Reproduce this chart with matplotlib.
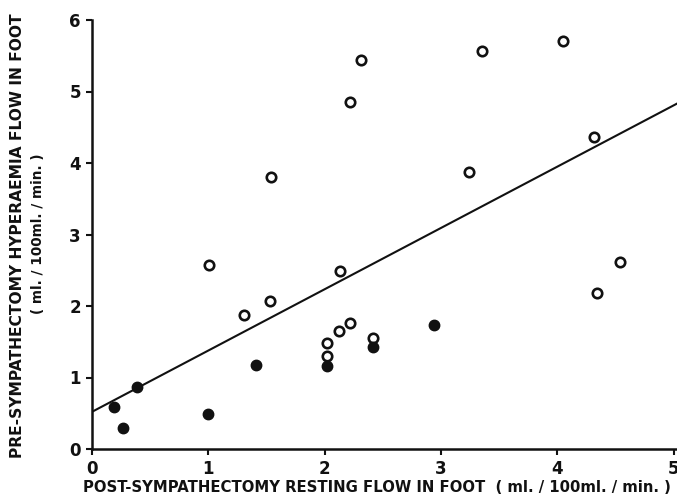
import matplotlib
matplotlib.use('Agg')
import matplotlib.pyplot as plt

# open circles
open_x = [1.01, 1.31, 1.53, 1.54, 2.02, 2.02, 2.12, 2.22, 2.13, 2.42,
          2.22, 2.31, 3.24, 3.35, 4.05, 4.32, 4.34, 4.54]
open_y = [2.58, 1.88, 2.07, 3.80, 1.48, 1.30, 1.65, 1.76, 2.49, 1.55,
          4.86, 5.44, 3.88, 5.56, 5.70, 4.37, 2.18, 2.62]

# filled circles
filled_x = [0.19, 0.27, 0.39, 1.00, 1.41, 2.02, 2.42, 2.94]
filled_y = [0.59, 0.29, 0.87, 0.49, 1.17, 1.16, 1.43, 1.74]

# regression line
line_x = [0.0, 5.03]
intercept = 0.52
slope = 0.857

x_ticks = [0, 1, 2, 3, 4, 5]
y_ticks = [0, 1, 2, 3, 4, 5, 6]

INK = '#111111'

fig = plt.figure(figsize=(6.77, 5.01), dpi=100, facecolor='white')
ax = fig.add_axes([92 / 677, 52 / 501, 585 / 677, 429 / 501])

ax.plot(line_x, [intercept + slope * x for x in line_x],
        color=INK, linewidth=1.5, zorder=2)
ax.plot(open_x, open_y, 'o', markersize=6.8, markerfacecolor='white',
        markeredgecolor=INK, markeredgewidth=1.9, zorder=3)
ax.plot(filled_x, filled_y, 'o', markersize=7.5, markerfacecolor=INK,
        markeredgecolor=INK, zorder=3)

ax.set_xlim(0, 5.03)
ax.set_ylim(0, 6)
ax.set_xticks(x_ticks)
ax.set_yticks(y_ticks)
ax.set_xticklabels([str(t) for t in x_ticks], fontsize=12, fontweight='bold')
ax.set_yticklabels([str(t) for t in y_ticks], fontsize=12, fontweight='bold')

for side in ['top', 'right']:
    ax.spines[side].set_visible(False)
for side in ['left', 'bottom']:
    ax.spines[side].set_linewidth(1.8)
    ax.spines[side].set_color(INK)
ax.tick_params(direction='out', length=4, width=1.5, colors=INK, pad=4)

fig.text(377 / 677, 1 - 488 / 501,
         'POST-SYMPATHECTOMY RESTING FLOW IN FOOT  ( ml. / 100ml. / min. )',
         ha='center', va='center', fontsize=10.7, fontweight='bold', color=INK)
fig.text(18 / 677, 1 - 236 / 501,
         'PRE-SYMPATHECTOMY HYPERAEMIA FLOW IN FOOT',
         ha='center', va='center', rotation=90, fontsize=11.2,
         fontweight='bold', color=INK)
fig.text(38 / 677, 1 - 234 / 501,
         '( ml. / 100ml. / min. )',
         ha='center', va='center', rotation=90, fontsize=9.8,
         fontweight='bold', color=INK)

fig.savefig('out.png', dpi=100, facecolor='white')
